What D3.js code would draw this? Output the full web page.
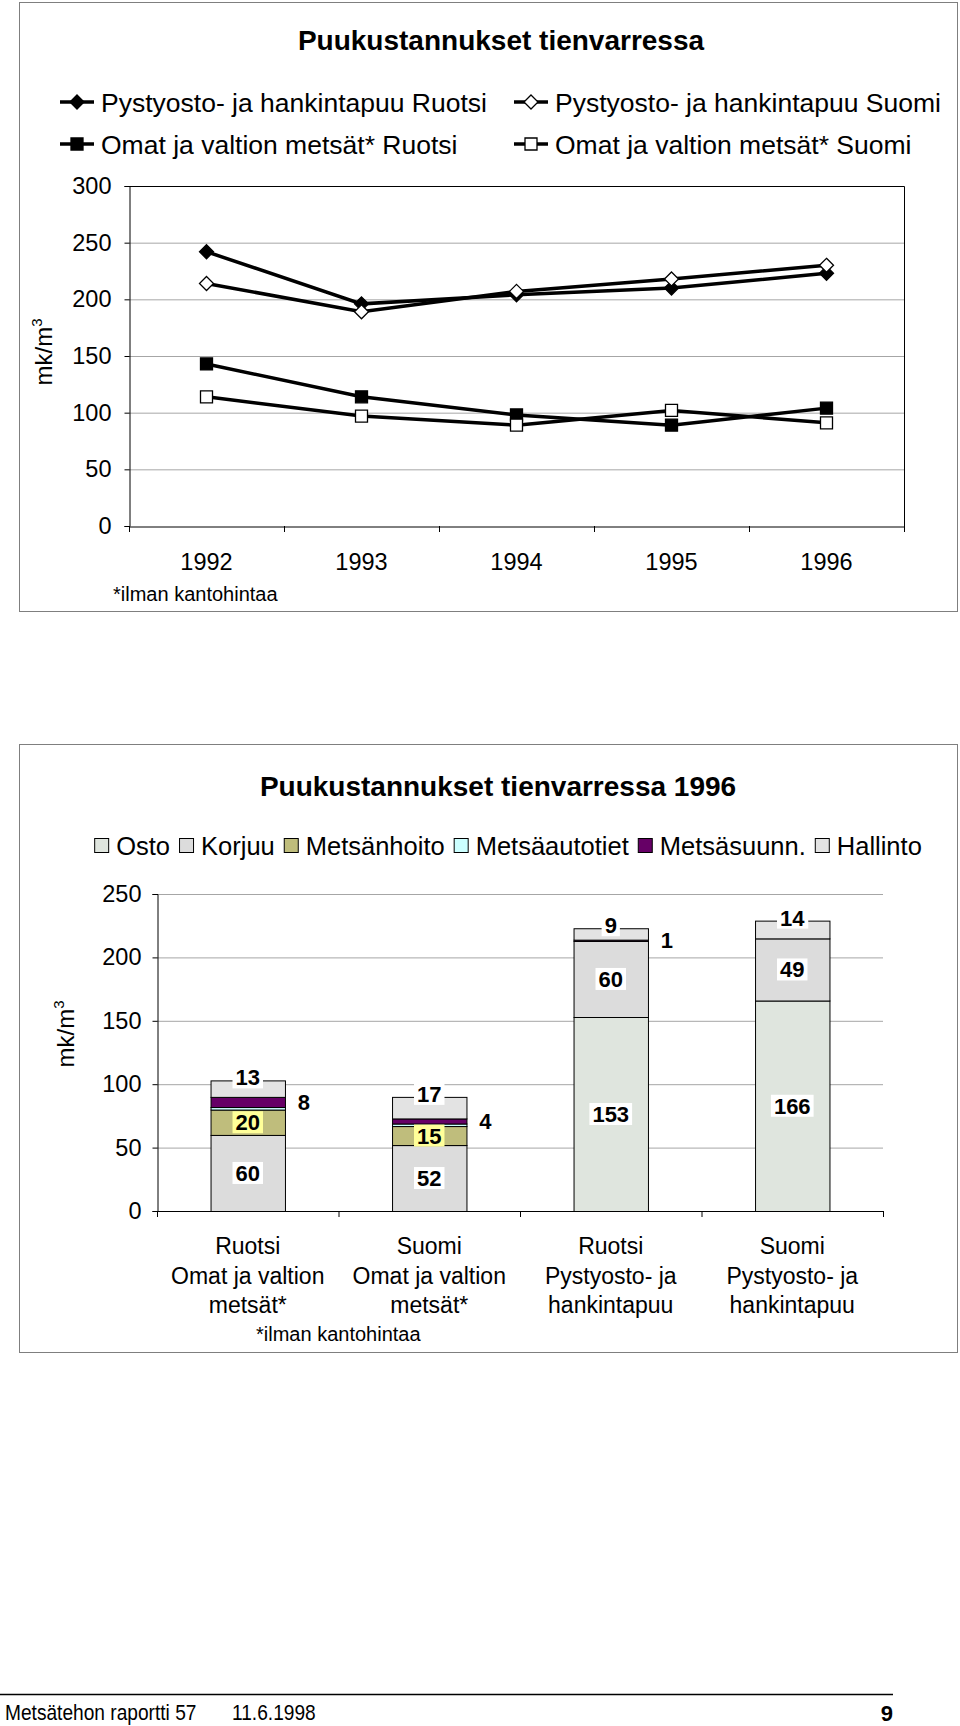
<!DOCTYPE html>
<html>
<head>
<meta charset="utf-8">
<script src="https://d3js.org/d3.v7.min.js"></script>
<style>
  * { margin:0; padding:0; }
  body { background:#fff; }
  svg { display:block; font-family:'Liberation Sans', Arial, sans-serif; }
</style>
</head>
<body>
<svg id="page" width="960" height="1726"></svg>
<script>
// ── Line chart data (mk/m3) ──────────────────────────────────────────────────
var years       = ["1992", "1993", "1994", "1995", "1996"];
var pystyRuotsi = [242, 196, 204, 210, 223];
var pystySuomi  = [214, 189, 207, 218, 230];
var omatRuotsi  = [143, 114, 98, 89, 104];
var omatSuomi   = [114, 97, 89, 102, 91];
var lineTicks   = [0, 50, 100, 150, 200, 250, 300];

// ── Bar chart data, 1996 ─────────────────────────────────────────────────────
var barCats = [
  ["Ruotsi", "Omat ja valtion", "metsät*"],
  ["Suomi", "Omat ja valtion", "metsät*"],
  ["Ruotsi", "Pystyosto- ja", "hankintapuu"],
  ["Suomi", "Pystyosto- ja", "hankintapuu"]
];
var costNames   = ["Osto", "Korjuu", "Metsänhoito", "Metsäautotiet", "Metsäsuunn.", "Hallinto"];
var osto        = [0, 0, 153, 166];
var korjuu      = [60, 52, 60, 49];
var metsanhoito = [20, 15, 0, 0];
var autotiet    = [2, 2, 0, 0];
var suunnittelu = [8, 4, 1, 0];
var hallinto    = [13, 17, 9, 14];
var barTicks    = [0, 50, 100, 150, 200, 250];

var svg  = d3.select("#page");
var GRID = "#a6a6a6";

// small helper: rotated axis title with a superscript
function mkLabel(g, x, y) {
  var t = g.append("text")
    .attr("transform", "translate(" + x + "," + y + ") rotate(-90)")
    .attr("text-anchor", "middle")
    .attr("font-size", 24);
  t.append("tspan").text("mk/m");
  t.append("tspan").attr("font-size", 15).attr("dy", -10).text("3");
}

// ── Frames ───────────────────────────────────────────────────────────────────
svg.append("rect").attr("x", 19.5).attr("y", 2.5).attr("width", 938).attr("height", 609)
  .attr("fill", "none").attr("stroke", "#7f7f7f");
svg.append("rect").attr("x", 19.5).attr("y", 744.5).attr("width", 938).attr("height", 608)
  .attr("fill", "none").attr("stroke", "#7f7f7f");

// ════════════════════════════════════════════════════════════════════════════
// Line chart
// ════════════════════════════════════════════════════════════════════════════
var g1 = svg.append("g");
var lx = d3.scaleBand().domain(years).range([129, 904]);
var ly = d3.scaleLinear().domain([0, 300]).range([526, 186]);
var cx = function(i) { return lx(years[i]) + lx.bandwidth() / 2; };

g1.append("text").attr("x", 501).attr("y", 50).attr("text-anchor", "middle")
  .attr("font-size", 28).attr("font-weight", "bold").text("Puukustannukset tienvarressa");

// gridlines
g1.selectAll(".grid").data(lineTicks.slice(1, -1)).join("line")
  .attr("x1", lx.range()[0]).attr("x2", lx.range()[1])
  .attr("y1", function(d) { return ly(d) + 0.5; }).attr("y2", function(d) { return ly(d) + 0.5; })
  .attr("stroke", GRID);

// plot border top + right
g1.append("path")
  .attr("d", "M" + lx.range()[0] + "," + (ly(300) + 0.5) + "H" + (lx.range()[1] + 0.5) + "V" + ly(0))
  .attr("fill", "none").attr("stroke", "#000");

// y axis
var ya = g1.append("g").attr("transform", "translate(" + (lx.range()[0] + 0.5) + ",0)")
  .call(d3.axisLeft(ly).tickValues(lineTicks).tickSize(5).tickPadding(13));
ya.selectAll("text").attr("font-size", 23.5).attr("font-family", null);
ya.selectAll("line,path").attr("stroke", "#000");

// x axis
var xa = g1.append("g").attr("transform", "translate(0," + (ly(0) + 0.5) + ")")
  .call(d3.axisBottom(lx).tickSize(0).tickPadding(27));
xa.selectAll("text").attr("font-size", 23.5).attr("font-family", null);
xa.select(".domain").attr("stroke", "#000");
g1.selectAll(".xtick").data(d3.range(years.length + 1)).join("line")
  .attr("x1", function(i) { return lx.range()[0] + i * lx.step() + 0.5; })
  .attr("x2", function(i) { return lx.range()[0] + i * lx.step() + 0.5; })
  .attr("y1", ly(0)).attr("y2", ly(0) + 6).attr("stroke", "#000");

g1.append("text").attr("x", 113).attr("y", 601).attr("font-size", 20).text("*ilman kantohintaa");
mkLabel(g1, 52, 352);

// series
var series = [
  { name: "Pystyosto- ja hankintapuu Ruotsi", values: pystyRuotsi, shape: "diamond", fill: "#000" },
  { name: "Pystyosto- ja hankintapuu Suomi",  values: pystySuomi,  shape: "diamond", fill: "#fff" },
  { name: "Omat ja valtion metsät* Ruotsi",   values: omatRuotsi,  shape: "square",  fill: "#000" },
  { name: "Omat ja valtion metsät* Suomi",    values: omatSuomi,   shape: "square",  fill: "#fff" }
];
function markerPath(shape) {
  return shape === "diamond" ? "M0,-7L7,0L0,7L-7,0Z" : "M-6,-6H6V6H-6Z";
}
var line = d3.line().x(function(d, i) { return cx(i); }).y(function(d) { return ly(d); });

series.forEach(function(s) {
  g1.append("path").attr("d", line(s.values)).attr("fill", "none")
    .attr("stroke", "#000").attr("stroke-width", 3.5);
});
series.forEach(function(s) {
  g1.selectAll(null).data(s.values).join("path")
    .attr("transform", function(d, i) { return "translate(" + cx(i) + "," + ly(d) + ")"; })
    .attr("d", markerPath(s.shape)).attr("fill", s.fill)
    .attr("stroke", "#000").attr("stroke-width", 1.3);
});

// legend (2 x 2)
series.forEach(function(s, i) {
  var mx = (i % 2 === 0) ? 77 : 531;
  var my = (i < 2) ? 102 : 144;
  var lg = g1.append("g").attr("transform", "translate(" + mx + "," + my + ")");
  lg.append("line").attr("x1", -17).attr("x2", 17).attr("stroke", "#000").attr("stroke-width", 3.5);
  lg.append("path").attr("d", markerPath(s.shape)).attr("fill", s.fill)
    .attr("stroke", "#000").attr("stroke-width", 1.3);
  lg.append("text").attr("x", 24).attr("y", 9.5).attr("font-size", 26.5).text(s.name);
});

// ════════════════════════════════════════════════════════════════════════════
// Stacked bar chart
// ════════════════════════════════════════════════════════════════════════════
var g2 = svg.append("g");
var colors = {
  "Osto": "#dfe5de", "Korjuu": "#dcdcdc", "Metsänhoito": "#bfbd7c",
  "Metsäautotiet": "#ccffff", "Metsäsuunn.": "#660066", "Hallinto": "#e3e3e3"
};
var labelMode = {
  "Osto": "center", "Korjuu": "center", "Metsänhoito": "center",
  "Metsäautotiet": "none", "Metsäsuunn.": "right", "Hallinto": "top"
};
var columns = [osto, korjuu, metsanhoito, autotiet, suunnittelu, hallinto];
var rows = barCats.map(function(c, i) {
  var r = { idx: i };
  costNames.forEach(function(k, j) { r[k] = columns[j][i]; });
  return r;
});
var stacked = d3.stack().keys(costNames)(rows);

var bx = d3.scaleBand().domain(d3.range(barCats.length)).range([157, 883]);
var by = d3.scaleLinear().domain([0, 250]).range([1211, 894]);
var barW = bx.bandwidth() * 0.41;
var barX = function(i) { return bx(i) + (bx.bandwidth() - barW) / 2; };

g2.append("text").attr("x", 498).attr("y", 796).attr("text-anchor", "middle")
  .attr("font-size", 28).attr("font-weight", "bold").text("Puukustannukset tienvarressa 1996");

// legend
var leg = g2.append("g");
var lxPos = 0;
costNames.forEach(function(k) {
  var it = leg.append("g").attr("transform", "translate(" + lxPos + ",0)");
  it.append("rect").attr("x", 0.5).attr("y", -7.5).attr("width", 14).attr("height", 14)
    .attr("fill", colors[k]).attr("stroke", "#000");
  var t = it.append("text").attr("x", 22).attr("y", 9).attr("font-size", 25.5).text(k);
  lxPos += 22 + t.node().getComputedTextLength() + 9;
});
leg.attr("transform", "translate(" + (508 - (lxPos - 9) / 2) + ",846)");

// gridlines
g2.selectAll(".grid").data(barTicks.slice(1)).join("line")
  .attr("x1", bx.range()[0]).attr("x2", bx.range()[1])
  .attr("y1", function(d) { return by(d) + 0.5; }).attr("y2", function(d) { return by(d) + 0.5; })
  .attr("stroke", GRID);

var yb = g2.append("g").attr("transform", "translate(" + (bx.range()[0] + 0.5) + ",0)")
  .call(d3.axisLeft(by).tickValues(barTicks).tickSize(5).tickPadding(11));
yb.selectAll("text").attr("font-size", 23.5).attr("font-family", null);
yb.selectAll("line,path").attr("stroke", "#000");

g2.append("line").attr("x1", bx.range()[0]).attr("x2", bx.range()[1])
  .attr("y1", by(0) + 0.5).attr("y2", by(0) + 0.5).attr("stroke", "#000");
g2.selectAll(".xtick").data(d3.range(barCats.length + 1)).join("line")
  .attr("x1", function(i) { return bx.range()[0] + i * bx.step() + 0.5; })
  .attr("x2", function(i) { return bx.range()[0] + i * bx.step() + 0.5; })
  .attr("y1", by(0)).attr("y2", by(0) + 6).attr("stroke", "#000");

// category labels
barCats.forEach(function(lines, i) {
  var t = g2.append("text").attr("text-anchor", "middle").attr("font-size", 23);
  lines.forEach(function(s, j) {
    t.append("tspan").attr("x", bx(i) + bx.bandwidth() / 2).attr("y", 1254 + j * 29.5).text(s);
  });
});
g2.append("text").attr("x", 256).attr("y", 1341).attr("font-size", 20).text("*ilman kantohintaa");
mkLabel(g2, 74, 1034);

// bars
stacked.forEach(function(layer) {
  g2.selectAll(null).data(layer.filter(function(d) { return d[1] - d[0] > 0; })).join("rect")
    .attr("x", function(d) { return barX(d.data.idx) + 0.5; })
    .attr("width", barW)
    .attr("y", function(d) { return by(d[1]) + 0.5; })
    .attr("height", function(d) { return by(d[0]) - by(d[1]); })
    .attr("fill", colors[layer.key]).attr("stroke", "#000");
});

// data labels
stacked.forEach(function(layer) {
  var mode = labelMode[layer.key];
  if (mode === "none") return;
  layer.forEach(function(d) {
    var v = d[1] - d[0];
    if (v <= 0) return;
    var i = d.data.idx, x, y;
    if (mode === "center") { x = barX(i) + barW / 2; y = by((d[0] + d[1]) / 2); }
    else if (mode === "right") { x = barX(i) + barW + 19; y = by((d[0] + d[1]) / 2); }
    else { x = barX(i) + barW / 2; y = by(d[1]) - 3; }
    var lg = g2.append("g");
    var t = lg.append("text").attr("x", x).attr("y", y + 8).attr("text-anchor", "middle")
      .attr("font-size", 22).attr("font-weight", "bold").text(v);
    var bb = t.node().getBBox();
    lg.insert("rect", "text").attr("x", bb.x - 3).attr("y", y - 11).attr("width", bb.width + 6).attr("height", 22)
      .attr("fill", layer.key === "Metsänhoito" ? "#ffff99" : "#fff");
  });
});

// ── Page footer ──────────────────────────────────────────────────────────────
svg.append("line").attr("x1", 0).attr("x2", 893).attr("y1", 1694.5).attr("y2", 1694.5)
  .attr("stroke", "#000").attr("stroke-width", 1.5);
var ft = svg.append("g").attr("transform", "translate(5,1720) scale(0.87,1)").attr("font-size", 22);
ft.append("text").attr("x", 0).attr("y", 0).text("Metsätehon raportti  57");
ft.append("text").attr("x", (232 - 5) / 0.87).attr("y", 0).text("11.6.1998");
svg.append("text").attr("x", 893).attr("y", 1721).attr("text-anchor", "end")
  .attr("font-size", 22).attr("font-weight", "bold").text("9");
</script>
</body>
</html>
